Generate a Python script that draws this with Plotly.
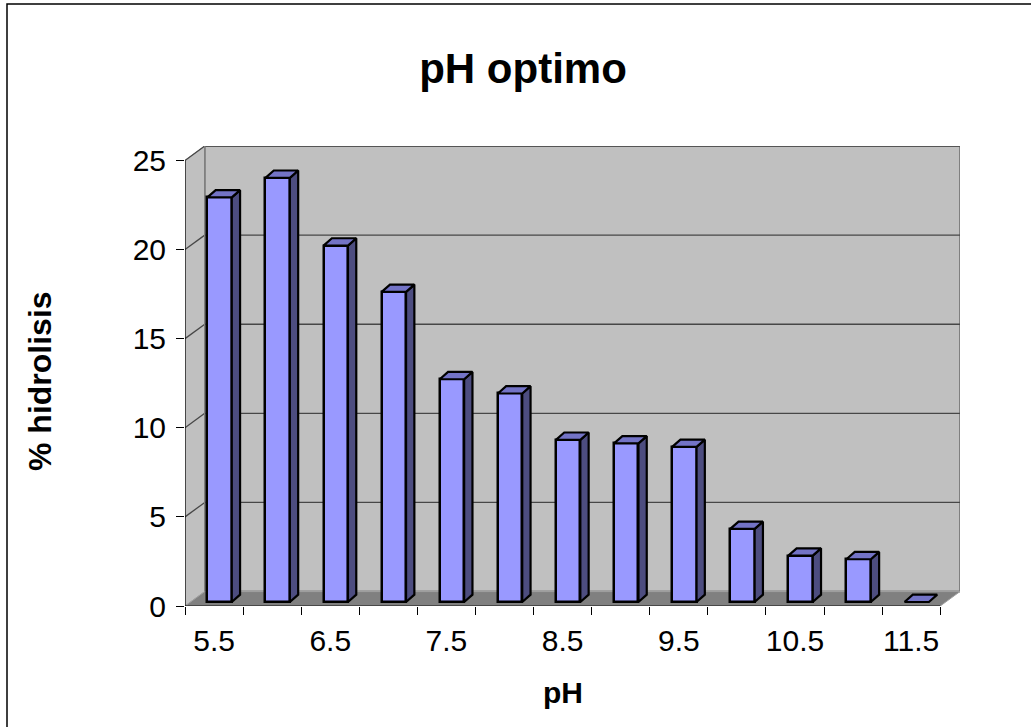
import plotly.graph_objects as go

# Data: percentage of hydrolysis at each pH
ph = ["5.5", "6", "6.5", "7", "7.5", "8", "8.5", "9", "9.5", "10", "10.5", "11", "11.5"]
hidrolisis = [22.7, 23.8, 20.0, 17.4, 12.5, 11.7, 9.1, 8.9, 8.7, 4.1, 2.6, 2.4, 0.0]
x_tick_labels = ["5.5", "6.5", "7.5", "8.5", "9.5", "10.5", "11.5"]
y_ticks = [0, 5, 10, 15, 20, 25]

W, H = 1031, 727
ML, MT, MR, MB = 185, 146, 71, 121

# Pseudo-3D geometry (in axis units)
DX, DY = 0.34, 0.81          # depth offset of the back wall
BX, BY = 0.095, 0.224        # bar front face offset into the depth
DDX, DDY = 0.143, 0.41       # depth of each bar
BW = 0.42                    # bar width

n = len(ph)
idx = list(range(n))
ymax = y_ticks[-1]

FONT = "Liberation Sans, Arial, sans-serif"
WALL = "#C0C0C0"
FLOOR = "#808080"
GRID = "#474747"

fig = go.Figure()

# Front faces of the bars
fig.add_trace(go.Bar(
    x=[i + BX for i in idx], y=hidrolisis, base=BY, width=BW,
    marker=dict(color="#9999FF", line=dict(color="black", width=2.5)),
    hoverinfo="skip", showlegend=False,
))

# Side and top faces, derived from the same values
side_x, side_y, top_x, top_y = [], [], [], []
for i, v in zip(idx, hidrolisis):
    x0 = i + BX - BW / 2
    x1 = x0 + BW
    yb, yt = BY, BY + v
    if v > 0:
        side_x += [x1, x1, x1 + DDX, x1 + DDX, x1, None]
        side_y += [yb, yt, yt + DDY, yb + DDY, yb, None]
    top_x += [x0, x1, x1 + DDX, x0 + DDX, x0, None]
    top_y += [yt, yt, yt + DDY, yt + DDY, yt, None]

fig.add_trace(go.Scatter(
    x=side_x, y=side_y, mode="lines", fill="toself", fillcolor="#4D4D80",
    line=dict(color="black", width=2.2), hoverinfo="skip", showlegend=False,
))
fig.add_trace(go.Scatter(
    x=top_x, y=top_y, mode="lines", fill="toself", fillcolor="#7373C6",
    line=dict(color="black", width=2.2), hoverinfo="skip", showlegend=False,
))

shapes = []
xl, xr = -0.5, n - 0.5
# back wall
shapes.append(dict(type="rect", xref="x", yref="y", x0=xl + DX, x1=xr + DX, y0=DY, y1=ymax + DY,
                   fillcolor=WALL, line=dict(color=FLOOR, width=2), layer="below"))
# left side wall
shapes.append(dict(type="path", xref="x", yref="y",
                   path=f"M {xl},0 L {xl + DX},{DY} L {xl + DX},{ymax + DY} L {xl},{ymax} Z",
                   fillcolor=WALL, line=dict(color="#A0A0A0", width=1), layer="below"))
# floor
shapes.append(dict(type="path", xref="x", yref="y",
                   path=f"M {xl},0 L {xr},0 L {xr + DX},{DY} L {xl + DX},{DY} Z",
                   fillcolor=FLOOR, line=dict(color="#A0A0A0", width=1), layer="below"))
# gridlines on the back and side walls
for t in y_ticks[1:]:
    shapes.append(dict(type="line", xref="x", yref="y", x0=xl + DX, x1=xr + DX, y0=t + DY, y1=t + DY,
                       line=dict(color=GRID, width=1.3), layer="below"))
    shapes.append(dict(type="line", xref="x", yref="y", x0=xl, x1=xl + DX, y0=t, y1=t + DY,
                       line=dict(color=GRID, width=1.3), layer="below"))
# back wall left edge
shapes.append(dict(type="line", xref="x", yref="y", x0=xl + DX, x1=xl + DX, y0=DY, y1=ymax + DY,
                   line=dict(color=FLOOR, width=1.5), layer="below"))
# front axis lines
shapes.append(dict(type="line", xref="x", yref="y", x0=xl, x1=xl, y0=0, y1=ymax,
                   line=dict(color="black", width=1.2)))
shapes.append(dict(type="line", xref="x", yref="y", x0=xl, x1=xr, y0=0, y1=0,
                   line=dict(color="black", width=1.2)))

# outer chart frame
pw, ph_px = W - ML - MR, H - MT - MB
def px(x):
    return (x - ML) / pw
def py(y):
    return (H - MB - y) / ph_px
shapes.append(dict(type="rect", xref="paper", yref="paper",
                   x0=px(7), x1=px(W + 20), y0=py(4), y1=py(H + 20),
                   line=dict(color="black", width=1.5), fillcolor="rgba(0,0,0,0)"))

tickvals_x = [i for i, p in enumerate(ph) if p in x_tick_labels]

fig.update_layout(
    width=W, height=H,
    margin=dict(l=ML, r=MR, t=MT, b=MB),
    paper_bgcolor="white", plot_bgcolor="rgba(0,0,0,0)",
    font=dict(family=FONT, color="black"),
    bargap=0,
    shapes=shapes,
    title=dict(text="<b>pH optimo</b>", x=523 / W, xanchor="center",
               y=1 - 68 / H, yanchor="middle", yref="container",
               font=dict(size=42, family=FONT, color="black")),
    xaxis=dict(range=[xl, xr + DX], tickvals=tickvals_x, ticktext=x_tick_labels,
               ticks="", showgrid=False, zeroline=False, showline=False,
               tickfont=dict(size=30, family=FONT, color="black"),
               ticklabelstandoff=14,
               minor=dict(tickvals=[i - 0.5 for i in range(n + 1)], ticks="outside",
                          ticklen=8, tickcolor="black", tickwidth=1, showgrid=False)),
    yaxis=dict(range=[0, ymax + DY], tickvals=y_ticks, ticks="outside", ticklen=8,
               tickcolor="black", tickwidth=1, showgrid=False, zeroline=False, showline=False,
               tickfont=dict(size=30, family=FONT, color="black"), ticklabelstandoff=4),
    annotations=[
        dict(text="<b>% hidrolisis</b>", xref="paper", yref="paper", x=px(40), y=py(381),
             xanchor="center", yanchor="middle", textangle=-90, showarrow=False,
             font=dict(size=32, family=FONT, color="black")),
        dict(text="<b>pH</b>", xref="paper", yref="paper", x=px(563), y=py(692),
             xanchor="center", yanchor="middle", showarrow=False,
             font=dict(size=30, family=FONT, color="black")),
    ],
)

fig.write_html("out.html")
